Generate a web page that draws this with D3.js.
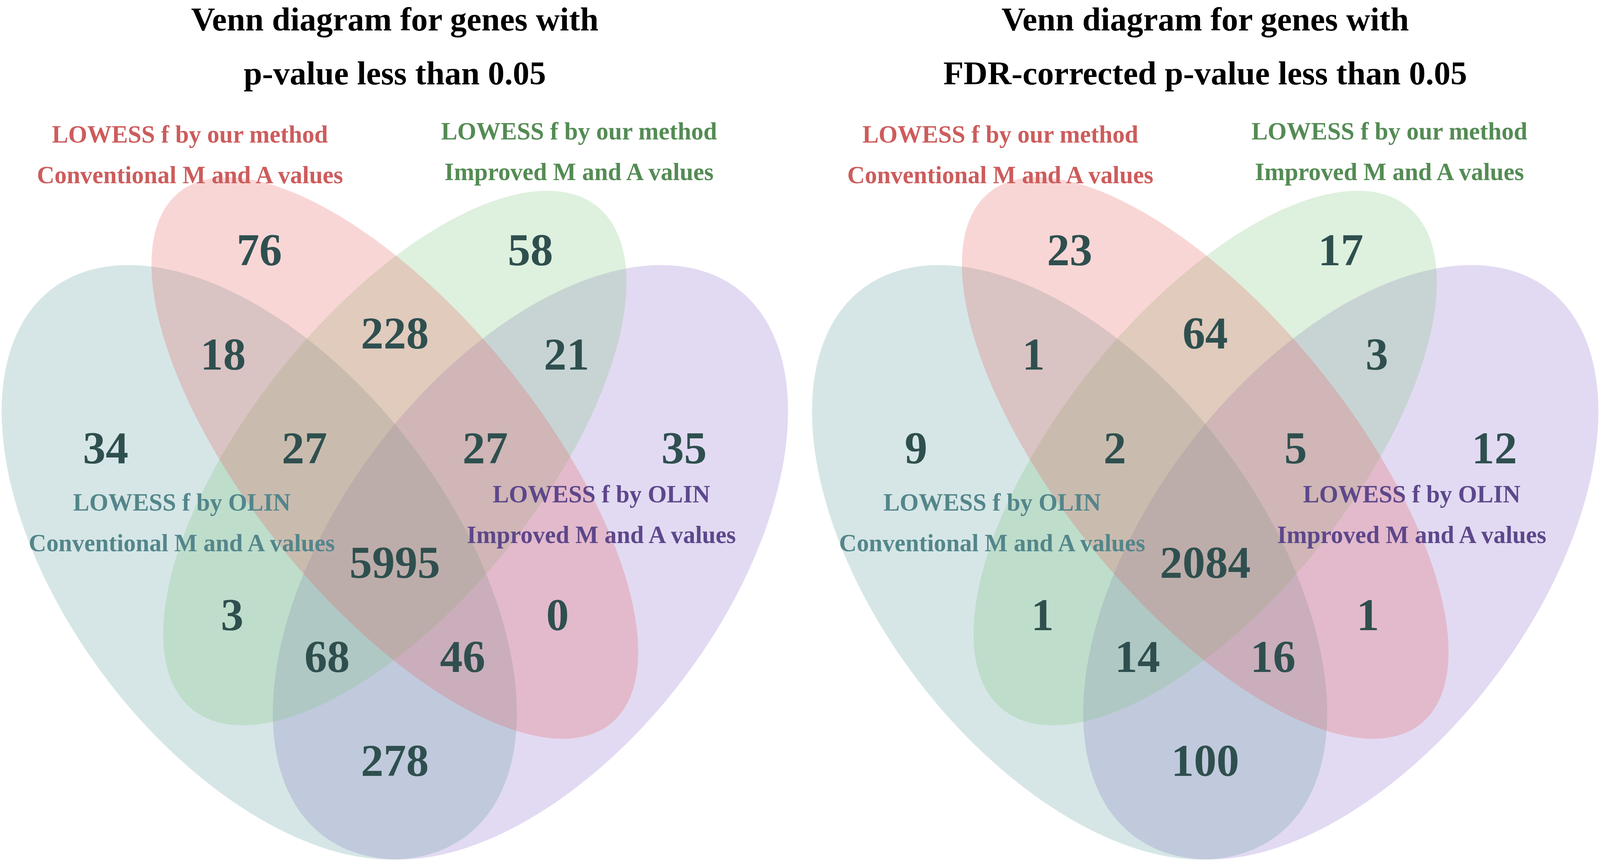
<!DOCTYPE html>
<html>
<head>
<meta charset="utf-8">
<script src="https://cdn.jsdelivr.net/npm/d3@7"></script>
<style>
  html, body { margin: 0; padding: 0; background: #fff; overflow: hidden; }
  svg { display: block; }
  text { font-family: "Liberation Serif", "Times New Roman", Times, serif; font-weight: bold; }
</style>
</head>
<body>
<svg id="venn"></svg>
<script>
// ---- data ----
// regions, in the order VennDiagram's quad layout places its counts
// T = OLIN/conventional, P = OLIN/improved, R = ours/conventional, G = ours/improved
const regionKeys = ['R', 'RG', 'G', 'TR', 'TRG', 'TRGP', 'RGP', 'GP', 'T', 'TG', 'TGP', 'TRP', 'RP', 'P', 'TP'];
const countsPValue = [76, 228, 58, 18, 27, 5995, 27, 21, 34, 3, 68, 46, 0, 35, 278];
const countsFDR = [23, 64, 17, 1, 2, 2084, 5, 3, 9, 1, 14, 16, 1, 12, 100];

const setKeys = ['P', 'T', 'G', 'R'];   // drawing order
const setLine1 = ['LOWESS f by OLIN', 'LOWESS f by OLIN', 'LOWESS f by our method', 'LOWESS f by our method'];
const setLine2 = ['Improved M and A values', 'Conventional M and A values', 'Improved M and A values', 'Conventional M and A values'];

const panelTitles = [
  ['Venn diagram for genes with', 'p-value less than 0.05'],
  ['Venn diagram for genes with', 'FDR-corrected p-value less than 0.05']
];

// ---- layout (unit square of the quad venn) ----
const ellipses = {
  P: { x: 0.65, y: 0.47, a: 0.35, b: 0.20, rot: 45 },
  T: { x: 0.35, y: 0.47, a: 0.35, b: 0.20, rot: 135 },
  G: { x: 0.50, y: 0.57, a: 0.33, b: 0.15, rot: 45 },
  R: { x: 0.50, y: 0.57, a: 0.35, b: 0.15, rot: 135 }
};
const regionAnchors = {
  R: [0.350, 0.77], RG: [0.500, 0.69], G: [0.650, 0.77], TR: [0.310, 0.67],
  TRG: [0.400, 0.58], TRGP: [0.500, 0.47], RGP: [0.600, 0.58], GP: [0.690, 0.67],
  T: [0.180, 0.58], TG: [0.320, 0.42], TGP: [0.425, 0.38], TRP: [0.575, 0.38],
  RP: [0.680, 0.42], P: [0.820, 0.58], TP: [0.500, 0.28]
};
const labelAnchors = {
  P: [0.7285, 0.5274], T: [0.2643, 0.5196], G: [0.7038, 0.8755], R: [0.2733, 0.8725]
};
const labelGap = 0.039;          // second line of a set name, in units
const fills = { P: 'rgb(139,107,203)', T: 'rgb(91,155,155)', G: 'rgb(123,197,125)', R: 'rgb(233,93,93)' };
const labelColors = { P: '#5d478b', T: '#53868b', G: '#548b54', R: '#cd5c5c' };

// reference frame is 4725 x 2209; stretch it onto whatever the viewport is
const W = 4725, H = 2209;
const vw = window.innerWidth || W, vh = window.innerHeight || H;
const sx = vw / W, sy = vh / H;
const unit = 2669;               // reference pixels per unit
const panelLeft = [-168.5, 2224.6];
const yTop = 2693.7;             // reference pixel row of y = 0
const titleBase = [78, 216];

const svg = d3.select('#venn').attr('width', vw).attr('height', vh);

function ellipsePoints(e) {
  const r = e.rot * Math.PI / 180;
  return d3.range(0, 361, 2).map(t => {
    const a = t * Math.PI / 180;
    const px = e.a * Math.cos(a), py = e.b * Math.sin(a);
    return [e.x + px * Math.cos(r) - py * Math.sin(r), e.y + px * Math.sin(r) + py * Math.cos(r)];
  });
}

[countsPValue, countsFDR].forEach((counts, pi) => {
  const x = d3.scaleLinear().domain([0, 1]).range([panelLeft[pi] * sx, (panelLeft[pi] + unit) * sx]);
  const y = d3.scaleLinear().domain([0, 1]).range([yTop * sy, (yTop - unit) * sy]);
  const line = d3.line().x(p => x(p[0])).y(p => y(p[1])).curve(d3.curveLinearClosed);
  const g = svg.append('g');

  // ellipses
  g.selectAll('path.set')
    .data(setKeys)
    .enter().append('path')
    .attr('class', 'set')
    .attr('d', k => line(ellipsePoints(ellipses[k])))
    .attr('fill', k => fills[k])
    .attr('fill-opacity', 0.25)
    .attr('stroke', 'none');

  // region counts
  g.selectAll('.count')
    .data(regionKeys.map((k, i) => ({ k, v: counts[i] })))
    .enter().append('text')
    .attr('class', 'count')
    .attr('x', d => x(regionAnchors[d.k][0]))
    .attr('y', d => y(regionAnchors[d.k][1]))
    .attr('dy', '0.345em')
    .attr('text-anchor', 'middle')
    .attr('font-size', 134 * sx)
    .attr('fill', '#2f4f4f')
    .text(d => d.v);

  // set names
  const lab = g.selectAll('.setname')
    .data(setKeys.map((k, i) => ({ k, l1: setLine1[i], l2: setLine2[i] })))
    .enter().append('text')
    .attr('class', 'setname')
    .attr('text-anchor', 'middle')
    .attr('font-size', 72 * sx)
    .attr('fill', d => labelColors[d.k]);
  lab.append('tspan')
    .attr('x', d => x(labelAnchors[d.k][0]))
    .attr('y', d => y(labelAnchors[d.k][1]))
    .text(d => d.l1);
  lab.append('tspan')
    .attr('x', d => x(labelAnchors[d.k][0]))
    .attr('y', d => y(labelAnchors[d.k][1] - labelGap))
    .text(d => d.l2);

  // title
  g.selectAll('.title')
    .data(panelTitles[pi])
    .enter().append('text')
    .attr('class', 'title')
    .attr('x', x(0.5))
    .attr('y', (d, i) => titleBase[i] * sy)
    .attr('text-anchor', 'middle')
    .attr('font-size', 98 * sx)
    .attr('fill', '#000')
    .text(d => d);
});
</script>
</body>
</html>
